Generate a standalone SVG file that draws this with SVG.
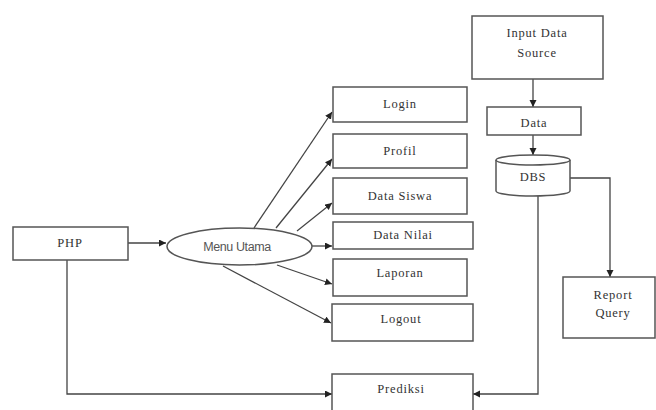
<svg xmlns="http://www.w3.org/2000/svg" width="656" height="410" viewBox="0 0 656 410">
<defs>
<marker id="ah" markerUnits="userSpaceOnUse" markerWidth="8" markerHeight="8" refX="7" refY="3.5" orient="auto">
<path d="M0,0 L7,3.5 L0,7 Z" fill="#222"/>
</marker>
<style>
.box{fill:#fff;stroke:#555;stroke-width:1.5}
.t{font-family:"Liberation Serif","Times New Roman",serif;font-size:12.5px;fill:#333;text-anchor:middle;letter-spacing:0.8px}
.s{font-family:"Liberation Sans",Arial,sans-serif;font-size:12.5px;fill:#555;text-anchor:middle;letter-spacing:-0.4px}
.c{fill:none;stroke:#444;stroke-width:1.3;marker-end:url(#ah)}
</style>
</defs>
<rect width="656" height="410" fill="#fff"/>
<g id="connectors">
<path class="c" d="M128,243 L166,243"/>
<path class="c" d="M254,228 L332,112"/>
<path class="c" d="M276,228 L332,159"/>
<path class="c" d="M297,231 L332,203"/>
<path class="c" d="M312,246 L332,246"/>
<path class="c" d="M277,265 L332,284"/>
<path class="c" d="M223,266 L331,323"/>
<path class="c" d="M533,79 L533,107"/>
<path class="c" d="M533,135 L533,155"/>
<path class="c" d="M570,178 L610,178 L610,277"/>
<path class="c" d="M538,196 L538,394 L473,394"/>
<path class="c" d="M67,260 L67,394 L332,394"/>
</g>
<g id="php"><rect class="box" x="13" y="227" width="115" height="33"/><text class="t" x="70" y="247">PHP</text></g>
<g id="menu"><ellipse cx="239.5" cy="246.5" rx="72.5" ry="18.5" fill="#fff" stroke="#555" stroke-width="1.5"/><text class="s" x="237" y="251">Menu Utama</text></g>
<g id="login"><rect class="box" x="333" y="87" width="134" height="35"/><text class="t" x="400" y="108">Login</text></g>
<g id="profil"><rect class="box" x="333" y="134" width="134" height="34"/><text class="t" x="400" y="155">Profil</text></g>
<g id="datasiswa"><rect class="box" x="333" y="178" width="134" height="36"/><text class="t" x="400" y="200">Data Siswa</text></g>
<g id="datanilai"><rect class="box" x="333" y="222" width="140" height="27"/><text class="t" x="403" y="239">Data Nilai</text></g>
<g id="laporan"><rect class="box" x="333" y="259" width="134" height="37"/><text class="t" x="400" y="277">Laporan</text></g>
<g id="logout"><rect class="box" x="332" y="304" width="141" height="37"/><text class="t" x="401" y="323">Logout</text></g>
<g id="prediksi"><rect class="box" x="332" y="374" width="141" height="45"/><text class="t" x="401" y="393">Prediksi</text></g>
<g id="input"><rect class="box" x="472" y="16" width="131" height="63"/><text class="t" x="537" y="37">Input Data</text><text class="t" x="537" y="57">Source</text></g>
<g id="data"><rect class="box" x="487" y="107" width="94" height="28"/><text class="t" x="534" y="127">Data</text></g>
<g id="dbs"><path d="M496,160 A37,5 0 0 1 570,160 L570,191 A37,5 0 0 1 496,191 Z" fill="#fff" stroke="#555" stroke-width="1.5"/><path d="M496,160 A37,5 0 0 0 570,160" fill="none" stroke="#555" stroke-width="1.5"/><text class="t" x="533" y="181">DBS</text></g>
<g id="report"><rect class="box" x="563" y="277" width="92" height="61"/><text class="t" x="613" y="299">Report</text><text class="t" x="613" y="317">Query</text></g>
</svg>
